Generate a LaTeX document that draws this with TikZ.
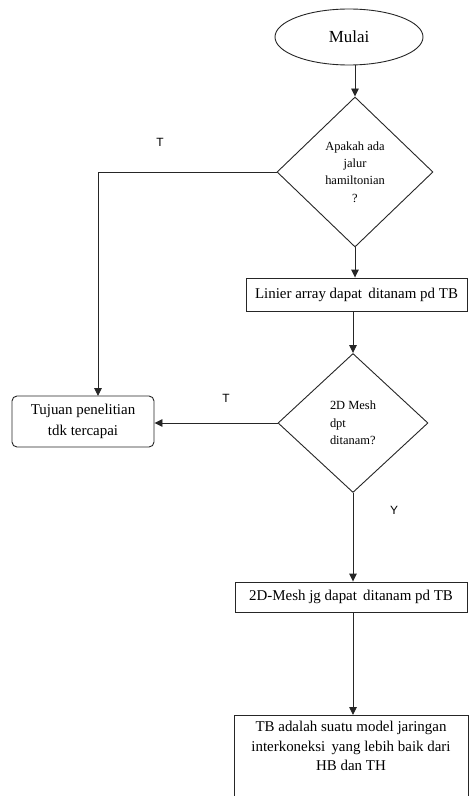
\documentclass[tikz,border=0pt]{standalone}
\usepackage{fontspec}
\setmainfont{Liberation Serif}
\newfontfamily\lsans{Liberation Sans}
\usetikzlibrary{shapes.geometric,arrows.meta}
\begin{document}
\begin{tikzpicture}[x=1bp,y=-1bp,
  line/.style={draw=black!85,line width=0.9bp},
  arr/.style={line,-{Triangle[length=8bp,width=7.5bp]}},
  boxtxt/.style={font=\fontsize{15}{19.5}\selectfont},
  procbox/.style={line,rectangle,inner sep=0pt,boxtxt,align=center},
  decbox/.style={line,diamond,inner sep=0pt,font=\fontsize{12.5}{17.5}\selectfont},
  lbl/.style={font=\lsans\fontsize{12}{14}\selectfont,inner sep=0pt}
]
\useasboundingbox[fill=white] (0,0) rectangle (470,796);

\node[line,ellipse,minimum width=148bp,minimum height=56bp,inner sep=0pt,
      font=\fontsize{17}{20}\selectfont] (start) at (349,37) {Mulai};

\node[decbox,minimum width=156bp,minimum height=150bp,align=center] (d1) at (355,172)
  {Apakah ada\\jalur\\hamiltonian\\?};

\node[procbox,minimum width=221bp,minimum height=33bp] (linier) at (356.5,294.5)
  {Linier array dapat\, ditanam pd TB};

\node[decbox,minimum width=150bp,minimum height=139bp,align=left] (d2) at (353,423)
  {2D Mesh\\dpt\\ditanam?};

\node[procbox,minimum width=232bp,minimum height=30bp] (mesh) at (351,597)
  {2D-Mesh jg dapat\, ditanam pd TB};

\node[procbox,anchor=north,minimum width=234bp,inner ysep=6bp] (final) at (351,715)
  {TB adalah suatu model jaringan\\interkoneksi\, yang lebih baik dari\\HB dan TH\\~\\~};

\node[procbox,rounded corners=5bp,minimum width=142bp,minimum height=51bp,
      font=\fontsize{15}{21}\selectfont] (tujuan) at (83,421.5)
  {Tujuan penelitian\\tdk tercapai};

\coordinate (tdrop) at (98,396);

\node[lbl] (t1) at (160,142) {T};
\node[lbl] (t2) at (226,398) {T};
\node[lbl] (y1) at (394,510) {Y};

\draw[arr] (d1.north |- start.south) -- (d1.north);
\draw[arr] (d1.south) -- (d1.south |- linier.north);
\draw[arr] (d2.north |- linier.south) -- (d2.north);
\draw[arr] (d2.south) -- (d2.south |- mesh.north);
\draw[arr] (d2.south |- mesh.south) -- (d2.south |- final.north);
\draw[arr] (d1.west) -| (tdrop);
\draw[arr] (d2.west) -- (d2.west -| tujuan.east);
\end{tikzpicture}
\end{document}
